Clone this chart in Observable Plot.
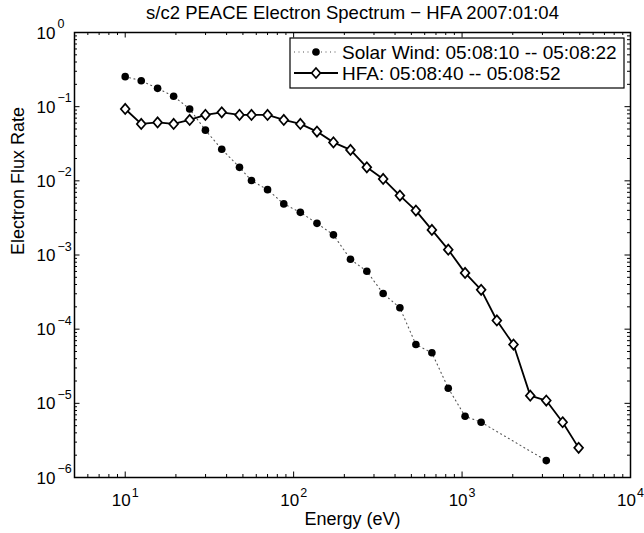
<!DOCTYPE html>
<html>
<head>
<meta charset="utf-8">
<script src="https://cdn.jsdelivr.net/npm/d3@7"></script>
<script src="https://cdn.jsdelivr.net/npm/@observablehq/plot@0.6"></script>
<style>
  html, body { margin: 0; padding: 0; background: #fff; }
  #chart svg { display: block; }
</style>
</head>
<body>
<div id="chart"></div>
<script>
// ---- Data ----
const titleText = "s/c2 PEACE Electron Spectrum \u2212 HFA 2007:01:04";
const xLabel = "Energy (eV)";
const yLabel = "Electron Flux Rate";
const legendSW = "Solar Wind: 05:08:10 -- 05:08:22";
const legendHFA = "HFA: 05:08:40 -- 05:08:52";

const energySW = [10, 12.45, 15.57, 19.39, 24.14, 29.94, 37.43, 47.7, 56.2, 70.0, 87.4, 109.6, 137.6, 172.3, 217.5, 272, 340, 427.5, 532, 662, 828, 1042, 1298, 3162];
const fluxSW = [0.254, 0.224, 0.1765, 0.138, 0.0931, 0.0482, 0.0267, 0.0152, 0.0101, 0.0076, 0.00489, 0.00376, 0.00267, 0.00187, 0.000875, 0.000603, 0.000302, 0.000194, 6.2e-5, 4.8e-5, 1.6e-5, 6.7e-6, 5.56e-6, 1.69e-6];

const energyHFA = [10, 12.45, 15.57, 19.39, 24.14, 29.94, 37.43, 47.7, 56.2, 70.0, 87.4, 109.6, 137.6, 172.3, 217.5, 272, 340, 427.5, 532, 662, 828, 1042, 1298, 1609, 2020, 2540, 3162, 3955, 4922];
const fluxHFA = [0.0931, 0.0585, 0.0614, 0.0585, 0.0662, 0.0775, 0.0838, 0.0775, 0.0773, 0.0773, 0.0662, 0.0585, 0.0461, 0.033, 0.0261, 0.0152, 0.0106, 0.00632, 0.00397, 0.00218, 0.00118, 0.000574, 0.000339, 0.000131, 6.2e-5, 1.27e-5, 1.09e-5, 5.56e-6, 2.51e-6];

const xDomain = [5, 10000];
const yDomain = [1e-6, 1];
const xMajor = [10, 100, 1000, 10000];
const xExp = ["1", "2", "3", "4"];
const yMajor = [1, 0.1, 0.01, 0.001, 1e-4, 1e-5, 1e-6];
const yExp = ["0", "\u22121", "\u22122", "\u22123", "\u22124", "\u22125", "\u22126"];
const xMinor = [6, 7, 8, 9, 20, 30, 40, 50, 60, 70, 80, 90, 200, 300, 400, 500, 600, 700, 800, 900, 2000, 3000, 4000, 5000, 6000, 7000, 8000, 9000];
const yMinor = [];
for (let e = -6; e < 0; e++) for (let m = 2; m <= 9; m++) yMinor.push(m * Math.pow(10, e));

// ---- Layout ----
const W = 644, H = 533;
const mL = 74, mR = 14, mT = 32, mB = 56;
const plotW = W - mL - mR, plotH = H - mT - mB;
const font = "'Liberation Sans', Arial, Helvetica, sans-serif";
const majorLen = 5.5, minorLen = 3;

const sw = energySW.map((e, i) => ({e, f: fluxSW[i]}));
const hfa = energyHFA.map((e, i) => ({e, f: fluxHFA[i]}));

const diamond = {
  draw(ctx, size) {
    const r = Math.sqrt(size / Math.PI);
    ctx.moveTo(0, -r * 1.15);
    ctx.lineTo(r, 0);
    ctx.lineTo(0, r * 1.15);
    ctx.lineTo(-r, 0);
    ctx.closePath();
  }
};

const tickStyle = {stroke: "black", strokeWidth: 1};
const dotLine = {stroke: "#555", strokeWidth: 1.1, strokeDasharray: "1,3.5"};

const chart = Plot.plot({
  width: W, height: H,
  marginLeft: mL, marginRight: mR, marginTop: mT, marginBottom: mB,
  style: {fontFamily: font, background: "white", color: "black"},
  x: {type: "log", domain: xDomain, axis: null},
  y: {type: "log", domain: yDomain, axis: null},
  marks: [
    // ticks (inward, all four sides)
    Plot.tickX(xMajor, {x: d => d, insetTop: plotH - majorLen, ...tickStyle}),
    Plot.tickX(xMajor, {x: d => d, insetBottom: plotH - majorLen, ...tickStyle}),
    Plot.tickX(xMinor, {x: d => d, insetTop: plotH - minorLen, ...tickStyle}),
    Plot.tickX(xMinor, {x: d => d, insetBottom: plotH - minorLen, ...tickStyle}),
    Plot.tickY(yMajor, {y: d => d, insetRight: plotW - majorLen, ...tickStyle}),
    Plot.tickY(yMajor, {y: d => d, insetLeft: plotW - majorLen, ...tickStyle}),
    Plot.tickY(yMinor, {y: d => d, insetRight: plotW - minorLen, ...tickStyle}),
    Plot.tickY(yMinor, {y: d => d, insetLeft: plotW - minorLen, ...tickStyle}),
    // data
    Plot.line(sw, {x: "e", y: "f", ...dotLine}),
    Plot.dot(sw, {x: "e", y: "f", r: 3.8, fill: "black", stroke: "none"}),
    Plot.line(hfa, {x: "e", y: "f", stroke: "black", strokeWidth: 1.8}),
    Plot.dot(hfa, {x: "e", y: "f", r: 4.4, symbol: diamond, fill: "white", stroke: "black", strokeWidth: 1.7}),
    // frame
    Plot.frame({stroke: "black", strokeWidth: 1.5}),
    // x tick labels
    Plot.text(xMajor, {x: d => d, text: () => "10", frameAnchor: "bottom", lineAnchor: "bottom", textAnchor: "end", dx: 5.5, dy: 28, fontSize: 17, fill: "black"}),
    Plot.text(xMajor, {x: d => d, text: (d, i) => xExp[i], frameAnchor: "bottom", lineAnchor: "bottom", textAnchor: "start", dx: 6.5, dy: 19.5, fontSize: 12.5, fill: "black"}),
    // y tick labels
    Plot.text(yMajor, {y: d => d, text: () => "10", frameAnchor: "left", lineAnchor: "bottom", textAnchor: "end", dx: -19, dy: 6, fontSize: 17, fill: "black"}),
    Plot.text(yMajor, {y: d => d, text: (d, i) => yExp[i], frameAnchor: "left", lineAnchor: "bottom", textAnchor: "start", dx: -17, dy: -4.5, fontSize: 12.5, fill: "black"}),
    // axis labels and title
    Plot.text([xLabel], {text: d => d, frameAnchor: "bottom", lineAnchor: "bottom", dy: 47, fontSize: 18, fill: "black"}),
    Plot.text([yLabel], {text: d => d, frameAnchor: "left", lineAnchor: "middle", rotate: -90, dx: -56, fontSize: 18, fill: "black"}),
    Plot.text([titleText], {text: d => d, frameAnchor: "top", lineAnchor: "bottom", dy: -13.5, fontSize: 18.5, fill: "black"})
  ]
});

document.getElementById("chart").appendChild(chart);

// ---- Legend (drawn inside the axes, top-right) ----
const svg = d3.select(chart);
const lg = svg.append("g").attr("font-family", font).attr("font-size", 19).attr("text-anchor", "start");
const bx = 290, by = 38, bw = 334, bh = 50;
lg.append("rect").attr("x", bx).attr("y", by).attr("width", bw).attr("height", bh)
  .attr("fill", "white").attr("stroke", "black").attr("stroke-width", 1.2);
const rows = [
  {y: by + 14, label: legendSW, kind: "sw"},
  {y: by + 35, label: legendHFA, kind: "hfa"}
];
rows.forEach(r => {
  const x0 = bx + 4, x1 = bx + 48, xm = (x0 + x1) / 2;
  if (r.kind === "sw") {
    lg.append("line").attr("x1", x0).attr("x2", x1).attr("y1", r.y).attr("y2", r.y)
      .attr("stroke", dotLine.stroke).attr("stroke-width", dotLine.strokeWidth).attr("stroke-dasharray", dotLine.strokeDasharray);
    lg.append("circle").attr("cx", xm).attr("cy", r.y).attr("r", 3.8).attr("fill", "black");
  } else {
    lg.append("line").attr("x1", x0).attr("x2", x1).attr("y1", r.y).attr("y2", r.y)
      .attr("stroke", "black").attr("stroke-width", 1.8);
    const p = d3.path();
    const rr = 4.4;
    p.moveTo(xm, r.y - rr * 1.15); p.lineTo(xm + rr, r.y); p.lineTo(xm, r.y + rr * 1.15); p.lineTo(xm - rr, r.y); p.closePath();
    lg.append("path").attr("d", p.toString()).attr("fill", "white").attr("stroke", "black").attr("stroke-width", 1.7);
  }
  lg.append("text").attr("x", bx + 52).attr("y", r.y).attr("dy", "0.35em").attr("fill", "black").attr("text-anchor", "start").text(r.label);
});
</script>
</body>
</html>
